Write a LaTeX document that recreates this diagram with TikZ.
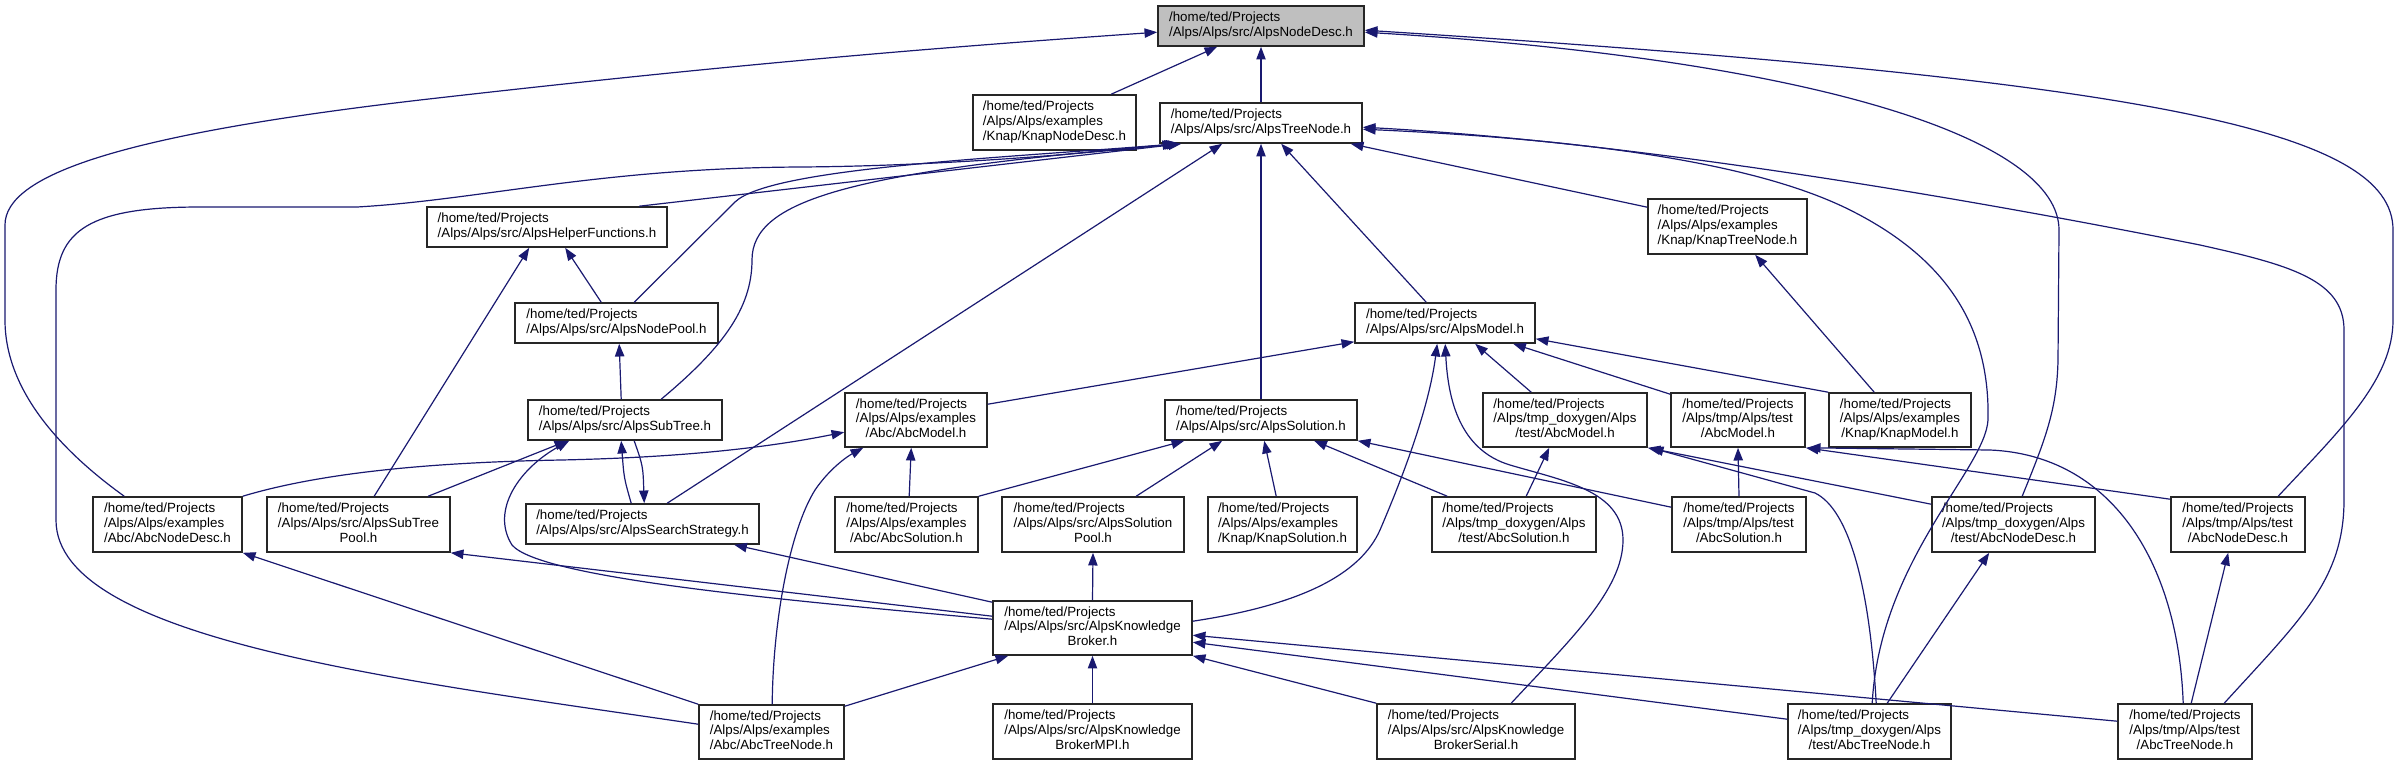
\documentclass[tikz,border=0pt]{standalone}
\usepackage{fontspec}
\setmainfont{Liberation Sans}
\usetikzlibrary{arrows.meta,calc}
\definecolor{edgecol}{RGB}{25,25,112}
\definecolor{rootfill}{RGB}{191,191,191}
\newcommand{\cl}[1]{\multicolumn{1}{@{}c@{}}{#1}}
\newcommand{\bx}[7][]{\node[box,#1,minimum width={(#5-#3)*0.75pt},minimum height={(#6-#4)*0.75pt}] (#2) at ({(#3+#5)/2},{(#4+#6)/2}) {\begin{tabular}{@{}l@{}}#7\end{tabular}};}
\tikzset{
  box/.style={draw=black!85, line width=1.2pt, fill=white, inner sep=0pt, font=\fontsize{10}{11}\selectfont},
  rootbox/.style={fill=rootfill},
  edge/.style={draw=edgecol, line width=0.9pt, -{Triangle[length=9.5pt,width=7pt]}}
}
\begin{document}
\begin{tikzpicture}[x=0.75pt,y=-0.75pt]
\useasboundingbox (0,0) rectangle (2403,765);
% nodes
\bx[rootbox]{root}{1158}{6}{1364}{46}{/home/ted/Projects\\/Alps/Alps/src/AlpsNodeDesc.h}
\bx{knapnd}{973}{95}{1136}{150}{/home/ted/Projects\\/Alps/Alps/examples\\\cl{/Knap/KnapNodeDesc.h}}
\bx{treenode}{1160}{103}{1362}{143}{/home/ted/Projects\\/Alps/Alps/src/AlpsTreeNode.h}
\bx{helper}{427}{207}{667}{247}{/home/ted/Projects\\/Alps/Alps/src/AlpsHelperFunctions.h}
\bx{knaptn}{1648}{199}{1807}{254}{/home/ted/Projects\\/Alps/Alps/examples\\\cl{/Knap/KnapTreeNode.h}}
\bx{nodepool}{515}{303}{718}{343}{/home/ted/Projects\\/Alps/Alps/src/AlpsNodePool.h}
\bx{model}{1355}{303}{1535}{343}{/home/ted/Projects\\/Alps/Alps/src/AlpsModel.h}
\bx{subtree}{528}{400}{722}{440}{/home/ted/Projects\\/Alps/Alps/src/AlpsSubTree.h}
\bx{abcmodel}{845}{393}{987}{447}{/home/ted/Projects\\/Alps/Alps/examples\\\cl{/Abc/AbcModel.h}}
\bx{solution}{1165}{400}{1357}{440}{/home/ted/Projects\\/Alps/Alps/src/AlpsSolution.h}
\bx{tdabcmodel}{1483}{393}{1647}{447}{/home/ted/Projects\\/Alps/tmp\_doxygen/Alps\\\cl{/test/AbcModel.h}}
\bx{tabcmodel}{1671}{393}{1805}{447}{/home/ted/Projects\\/Alps/tmp/Alps/test\\\cl{/AbcModel.h}}
\bx{knapmodel}{1829}{393}{1971}{447}{/home/ted/Projects\\/Alps/Alps/examples\\\cl{/Knap/KnapModel.h}}
\bx{abcnd}{93}{497}{242}{552}{/home/ted/Projects\\/Alps/Alps/examples\\\cl{/Abc/AbcNodeDesc.h}}
\bx{stpool}{267}{497}{450}{552}{/home/ted/Projects\\/Alps/Alps/src/AlpsSubTree\\\cl{Pool.h}}
\bx{search}{526}{504}{759}{544}{/home/ted/Projects\\/Alps/Alps/src/AlpsSearchStrategy.h}
\bx{abcsol}{835}{497}{978}{552}{/home/ted/Projects\\/Alps/Alps/examples\\\cl{/Abc/AbcSolution.h}}
\bx{solpool}{1002}{497}{1184}{552}{/home/ted/Projects\\/Alps/Alps/src/AlpsSolution\\\cl{Pool.h}}
\bx{knapsol}{1208}{497}{1357}{552}{/home/ted/Projects\\/Alps/Alps/examples\\\cl{/Knap/KnapSolution.h}}
\bx{tdabcsol}{1432}{497}{1596}{552}{/home/ted/Projects\\/Alps/tmp\_doxygen/Alps\\\cl{/test/AbcSolution.h}}
\bx{tabcsol}{1672}{497}{1806}{552}{/home/ted/Projects\\/Alps/tmp/Alps/test\\\cl{/AbcSolution.h}}
\bx{tdabcnd}{1932}{497}{2095}{552}{/home/ted/Projects\\/Alps/tmp\_doxygen/Alps\\\cl{/test/AbcNodeDesc.h}}
\bx{tabcnd}{2171}{497}{2305}{552}{/home/ted/Projects\\/Alps/tmp/Alps/test\\\cl{/AbcNodeDesc.h}}
\bx{broker}{993}{601}{1192}{655}{/home/ted/Projects\\/Alps/Alps/src/AlpsKnowledge\\\cl{Broker.h}}
\bx{abctn}{699}{705}{844}{759}{/home/ted/Projects\\/Alps/Alps/examples\\\cl{/Abc/AbcTreeNode.h}}
\bx{mpi}{993}{704}{1192}{759}{/home/ted/Projects\\/Alps/Alps/src/AlpsKnowledge\\\cl{BrokerMPI.h}}
\bx{serial}{1377}{704}{1575}{759}{/home/ted/Projects\\/Alps/Alps/src/AlpsKnowledge\\\cl{BrokerSerial.h}}
\bx{tdabctn}{1788}{704}{1951}{759}{/home/ted/Projects\\/Alps/tmp\_doxygen/Alps\\\cl{/test/AbcTreeNode.h}}
\bx{tabctn}{2118}{704}{2252}{759}{/home/ted/Projects\\/Alps/tmp/Alps/test\\\cl{/AbcTreeNode.h}}
% edges into root
\draw[edge] ($(abcnd.north west)+(32,0)$) .. controls (60,450) and (5,390) .. (5,320) -- (5,225) .. controls (5,175) and (120,135) .. (420,100) .. controls (700,68) and (900,50) .. ($(root.north west)+(0,27)$);
\draw[edge] ($(knapnd.north west)+(139,0)$) -- ($(root.south west)+(60,0)$);
\draw[edge] (treenode.north) -- (root.south);
\draw[edge] ($(tdabcnd.north west)+(91,0)$) .. controls (2045,440) and (2057,410) .. (2058,360) -- (2059,230) .. controls (2059,140) and (1820,60) .. ($(root.north east)+(0,27)$);
\draw[edge] ($(tabcnd.north west)+(108,0)$) .. controls (2340,430) and (2393,380) .. (2393,320) -- (2393,230) .. controls (2393,130) and (2150,80) .. ($(root.north east)+(0,25)$);
% edges into treenode
\draw[edge] ($(helper.north west)+(213,0)$) -- ($(treenode.south west)+(22,0)$);
\draw[edge] ($(nodepool.north west)+(120,0)$) -- (735,202) .. controls (770,168) and (1000,158) .. ($(treenode.south west)+(18,0)$);
\draw[edge] ($(subtree.north west)+(134,0)$) .. controls (720,350) and (752,310) .. (752,260) .. controls (752,200) and (850,172) .. ($(treenode.south west)+(20,0)$);
\draw[edge] ($(abctn.north west)+(0,20)$) .. controls (400,680) and (56,640) .. (56,520) -- (56,290) .. controls (56,230) and (90,207) .. (200,207) -- (357,207) .. controls (480,200) and (600,168) .. (800,167) .. controls (950,166) and (1100,152) .. ($(treenode.south west)+(16,0)$);
\draw[edge] ($(search.north west)+(142,0)$) -- ($(treenode.south west)+(63,0)$);
\draw[edge] (solution.north) -- (treenode.south);
\draw[edge] ($(model.north west)+(72,0)$) -- ($(treenode.south west)+(122,0)$);
\draw[edge] ($(knaptn.north west)+(0,9)$) -- ($(treenode.south east)+(-12,0)$);
\draw[edge] ($(tdabctn.north west)+(85,0)$) .. controls (1880,560) and (1985,470) .. (1988,420) .. controls (1990,330) and (1950,260) .. (1850,210) .. controls (1760,165) and (1600,140) .. ($(treenode.north east)+(0,27)$);
\draw[edge] ($(tabctn.north west)+(107,0)$) .. controls (2300,620) and (2344,580) .. (2344,500) -- (2344,330) .. controls (2344,280) and (2290,265) .. (2200,245) .. controls (1900,185) and (1600,140) .. ($(treenode.north east)+(0,25)$);
% helper, nodepool, knaptn
\draw[edge] ($(nodepool.north west)+(87,0)$) -- ($(helper.south west)+(139,0)$);
\draw[edge] ($(stpool.north west)+(108,0)$) -- ($(helper.south west)+(103,0)$);
\draw[edge] ($(subtree.north west)+(94,0)$) -- ($(nodepool.south west)+(105,0)$);
\draw[edge] ($(knapmodel.north west)+(46,0)$) -- ($(knaptn.south west)+(108,0)$);
% model
\draw[edge] ($(abcmodel.north east)+(0,12)$) -- ($(model.south west)+(0,-2)$);
\draw[edge] ($(broker.north east)+(0,21)$) .. controls (1300,605) and (1360,575) .. (1380,530) .. controls (1410,460) and (1430,400) .. ($(model.south west)+(83,0)$);
\draw[edge] ($(serial.north west)+(135,0)$) .. controls (1570,640) and (1623,590) .. (1623,540) .. controls (1623,490) and (1560,480) .. (1510,465) .. controls (1460,450) and (1448,400) .. ($(model.south west)+(91,0)$);
\draw[edge] ($(tdabcmodel.north west)+(49,0)$) -- ($(model.south west)+(121,0)$);
\draw[edge] ($(tabcmodel.north west)+(0,2)$) -- ($(model.south west)+(159,0)$);
\draw[edge] (knapmodel.north west) -- ($(model.south east)+(0,-5)$);
% abcmodel
\draw[edge] ($(abcsol.north west)+(75,0)$) -- ($(abcmodel.south west)+(67,0)$);
\draw[edge] ($(abctn.north west)+(74,0)$) .. controls (773,620) and (790,530) .. (815,490) .. controls (830,468) and (848,456) .. ($(abcmodel.south west)+(19,0)$);
\draw[edge] (abcnd.north east) .. controls (330,470) and (450,462) .. (561,460) .. controls (700,457) and (780,445) .. ($(abcmodel.north west)+(0,40)$);
% subtree / search
\draw[edge] ($(stpool.north west)+(162,0)$) -- ($(subtree.south west)+(40,0)$);
\draw[edge] ($(broker.north west)+(0,19)$) .. controls (780,600) and (540,578) .. (512,545) .. controls (490,510) and (520,468) .. ($(subtree.south west)+(42,0)$);
\draw[edge] ($(search.north west)+(106,0)$) .. controls (624,478) .. ($(subtree.south west)+(94,0)$);
\draw[edge] ($(subtree.south west)+(107,0)$) .. controls (643,466) .. ($(search.north west)+(119,0)$);
% solution
\draw[edge] (abcsol.north east) -- ($(solution.south west)+(20,0)$);
\draw[edge] ($(solpool.north west)+(135,0)$) -- ($(solution.south west)+(58,0)$);
\draw[edge] ($(knapsol.north west)+(69,0)$) -- ($(solution.south west)+(100,0)$);
\draw[edge] ($(tdabcsol.north west)+(16,0)$) -- ($(solution.south west)+(150,0)$);
\draw[edge] ($(tabcsol.north west)+(0,11)$) -- (solution.south east);
% broker outgoing
\draw[edge] ($(broker.north west)+(0,16)$) -- (stpool.south east);
\draw[edge] ($(broker.north west)+(0,2)$) -- ($(search.south west)+(209,0)$);
\draw[edge] (broker.north) -- (solpool.south);
% into broker
\draw[edge] ($(abctn.north east)+(0,2)$) -- ($(broker.south west)+(16,0)$);
\draw[edge] (mpi.north) -- (broker.south);
\draw[edge] (serial.north west) -- (broker.south east);
\draw[edge] ($(tdabctn.north west)+(0,16)$) -- ($(broker.north east)+(0,42)$);
\draw[edge] ($(tabctn.north west)+(0,18)$) -- ($(broker.north east)+(0,35)$);
% abcnd
\draw[edge] (abctn.north west) -- (abcnd.south east);
% tmp_doxygen model
\draw[edge] ($(tdabcsol.north west)+(95,0)$) -- ($(tdabcmodel.south west)+(67,0)$);
\draw[edge] ($(tdabcnd.north west)+(0,8)$) -- (tdabcmodel.south east);
\draw[edge] ($(tdabctn.north west)+(89,0)$) .. controls (1870,590) and (1850,510) .. (1815,493) -- ($(tdabcmodel.south east)+(3,0)$);
% tmp model
\draw[edge] (tabcsol.north) -- (tabcmodel.south);
\draw[edge] ($(tabcnd.north west)+(0,3)$) -- (tabcmodel.south east);
\draw[edge] ($(tabctn.north west)+(66,0)$) .. controls (2178,560) and (2110,455) .. (1990,450) -- ($(tabcmodel.south east)+(2,0)$);
% node desc
\draw[edge] ($(tdabctn.north west)+(100,0)$) -- ($(tdabcnd.south west)+(58,0)$);
\draw[edge] ($(tabctn.north west)+(74,0)$) -- ($(tabcnd.south west)+(58,0)$);
\end{tikzpicture}
\end{document}
